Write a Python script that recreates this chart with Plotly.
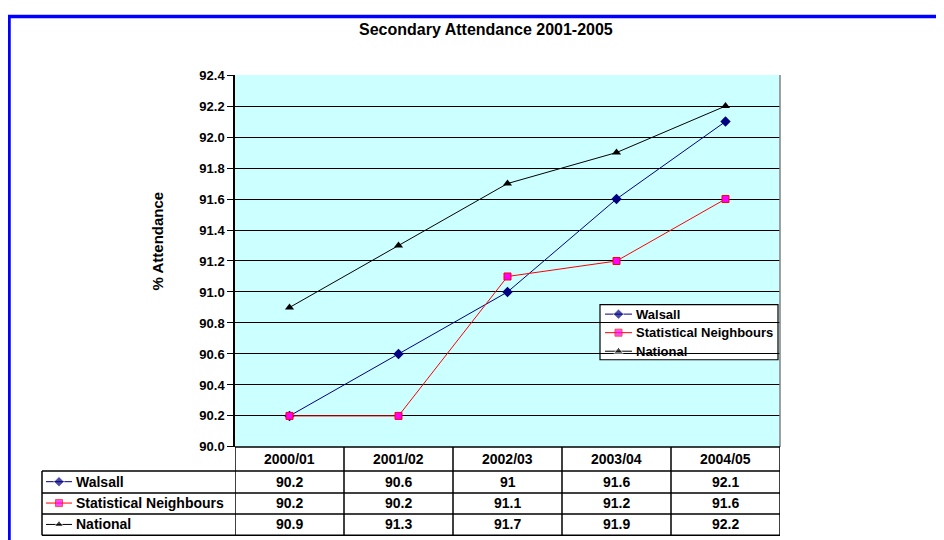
import plotly.graph_objects as go

# the figure sits 8px in from the page corner; the capture squeezes the page
# a little vertically, so window pixels are mapped back to figure pixels here
OFF = 8
SY, OY = 0.970, 7.3
W, H = 944 - 2 * OFF, 540

categories = ["2000/01", "2001/02", "2002/03", "2003/04", "2004/05"]
walsall = [90.2, 90.6, 91.0, 91.6, 92.1]
stat_neighbours = [90.2, 90.2, 91.1, 91.2, 91.6]
national = [90.9, 91.3, 91.7, 91.9, 92.2]

series = [
    ("Walsall", walsall, dict(symbol="diamond", size=8, color="#000080"), "#000080"),
    ("Statistical Neighbours", stat_neighbours,
     dict(symbol="square", size=7, color="#FF00FF", line=dict(color="#FF0000", width=1)), "#FF0000"),
    ("National", national, dict(symbol="triangle-up", size=8, color="#000000"), "#000000"),
]

FONT = "Liberation Sans, Arial, sans-serif"


def px(x):
    return (x - OFF) / W


def py(y):
    fy = (y - OY) / SY - OFF
    return min(1.0, max(0.0, 1 - fy / H))


# plot area, table and legend geometry in window pixels
PL, PR, PT, PB = 235, 780, 75, 446
TL = 42
ROWS = [446, 470, 492, 513, 534]
LEG = (600, 304, 778, 359)
LEG_ROW = 18.5
LEG_FIRST = 313.5

fig = go.Figure()

for name, vals, marker, lc in series:
    fig.add_trace(go.Scatter(
        x=categories, y=vals, name=name, mode="lines+markers", showlegend=False,
        line=dict(color=lc, width=1), marker=marker))

# legend keys: once in the data table, once in the legend box
for i, (name, vals, marker, lc) in enumerate(series):
    m = dict(marker)
    m["size"] = [0, marker["size"], 0]
    fig.add_trace(go.Scatter(
        x=[4, 17, 30], y=[i, i, i], mode="lines+markers", showlegend=False,
        hoverinfo="skip", line=dict(color=lc, width=1), marker=m,
        xaxis="x2", yaxis="y2"))
    fig.add_trace(go.Scatter(
        x=[5, 18.5, 32], y=[i, i, i], mode="lines+markers", showlegend=False,
        hoverinfo="skip", line=dict(color=lc, width=1), marker=m,
        xaxis="x3", yaxis="y3"))

shapes = []
# plot area fill (drawn as a shape so the table/legend subplots stay white)
shapes.append(dict(type="rect", xref="paper", yref="paper", x0=px(PL), x1=px(PR), y0=py(PB), y1=py(PT),
                   fillcolor="#CCFFFF", line=dict(width=0), layer="below"))
# outer blue frame
shapes.append(dict(type="rect", xref="paper", yref="paper", x0=px(9), y0=1 - 1.5 / H, x1=px(990), y1=-0.2,
                   line=dict(color="#0000FF", width=3.5)))
# plot area right border
shapes.append(dict(type="line", xref="paper", yref="paper", x0=px(PR), x1=px(PR), y0=py(PT), y1=py(PB),
                   line=dict(color="#808080", width=1.5)))

# table lines
tline = dict(color="#000000", width=1.5)
shapes.append(dict(type="line", xref="paper", yref="paper", x0=px(PL), x1=px(PR),
                   y0=py(ROWS[0]), y1=py(ROWS[0]), line=tline))
for r in ROWS[1:]:
    shapes.append(dict(type="line", xref="paper", yref="paper", x0=px(TL), x1=px(PR),
                       y0=py(r), y1=py(r), line=tline))
shapes.append(dict(type="line", xref="paper", yref="paper", x0=px(TL), x1=px(TL),
                   y0=py(ROWS[1]), y1=py(ROWS[-1]), line=tline))
for k in range(len(categories) + 1):
    shapes.append(dict(type="line", xref="x", yref="paper", x0=k - 0.5, x1=k - 0.5,
                       y0=py(ROWS[0]), y1=py(ROWS[-1]), line=tline))

# legend box: sits in the legend subplot, under its keys but over the chart
shapes.append(dict(type="rect", xref="x3 domain", yref="y3 domain", x0=0, x1=1, y0=0, y1=1,
                   fillcolor="#FFFFFF", layer="below", line=dict(color="#000000", width=1.2)))

annotations = [
    dict(text="Secondary Attendance 2001-2005", xref="paper", yref="paper", x=px(486), y=py(30),
         xanchor="center", yanchor="middle", showarrow=False,
         font=dict(family=FONT, size=16, color="#000000", weight="bold")),
    dict(text="% Attendance", xref="paper", yref="paper", x=px(157), y=py(241), textangle=-90,
         xanchor="center", yanchor="middle", showarrow=False,
         font=dict(family=FONT, size=15, color="#000000", weight="bold")),
]
tfont = dict(family=FONT, size=14, color="#000000", weight="bold")
lfont = dict(family=FONT, size=13, color="#000000", weight="bold")
for c in categories:
    annotations.append(dict(text=c, xref="x", yref="paper", x=c, y=py((ROWS[0] + ROWS[1]) / 2),
                            xanchor="center", yanchor="middle", showarrow=False, font=tfont))
for i, (name, vals, marker, lc) in enumerate(series):
    annotations.append(dict(text=name, xref="x2", yref="y2", x=32, y=i, xanchor="left",
                            yanchor="middle", showarrow=False, font=tfont))
    annotations.append(dict(text=name, xref="x3", yref="y3", x=34, y=i, xanchor="left",
                            yanchor="middle", showarrow=False, font=lfont))
    for c, v in zip(categories, vals):
        annotations.append(dict(text=f"{v:g}", xref="x", yref="y2", x=c, y=i,
                                xanchor="center", yanchor="middle", showarrow=False, font=tfont))

fig.update_layout(
    width=W, height=H,
    margin=dict(l=0, r=0, t=0, b=0),
    paper_bgcolor="#FFFFFF",
    plot_bgcolor="rgba(0,0,0,0)",
    showlegend=False,
    xaxis=dict(domain=[px(PL), px(PR)], type="category", range=[-0.5, 4.5],
               showticklabels=False, showgrid=False, zeroline=False, ticks="", fixedrange=True),
    yaxis=dict(domain=[py(PB), py(PT)], range=[90.0, 92.4], dtick=0.2, tickformat=".1f",
               showgrid=True, gridcolor="#000000", gridwidth=1, zeroline=False,
               showline=True, linecolor="#000000", linewidth=1.5,
               ticks="outside", ticklen=6, tickcolor="#000000",
               tickfont=dict(family=FONT, size=13, color="#000000", weight="bold")),
    xaxis2=dict(domain=[px(TL), px(PL)], range=[0, PL - TL], visible=False, anchor="y2"),
    yaxis2=dict(domain=[py(ROWS[-1]), py(ROWS[1])], range=[2.5, -0.5], visible=False, anchor="x2"),
    xaxis3=dict(domain=[px(LEG[0]), px(LEG[2])], range=[0, LEG[2] - LEG[0]], visible=False, anchor="y3"),
    yaxis3=dict(domain=[py(LEG[3]), py(LEG[1])],
                range=[(LEG[3] - LEG_FIRST) / LEG_ROW, (LEG[1] - LEG_FIRST) / LEG_ROW],
                visible=False, anchor="x3"),
    shapes=shapes,
    annotations=annotations,
)

fig.write_html("out.html")
